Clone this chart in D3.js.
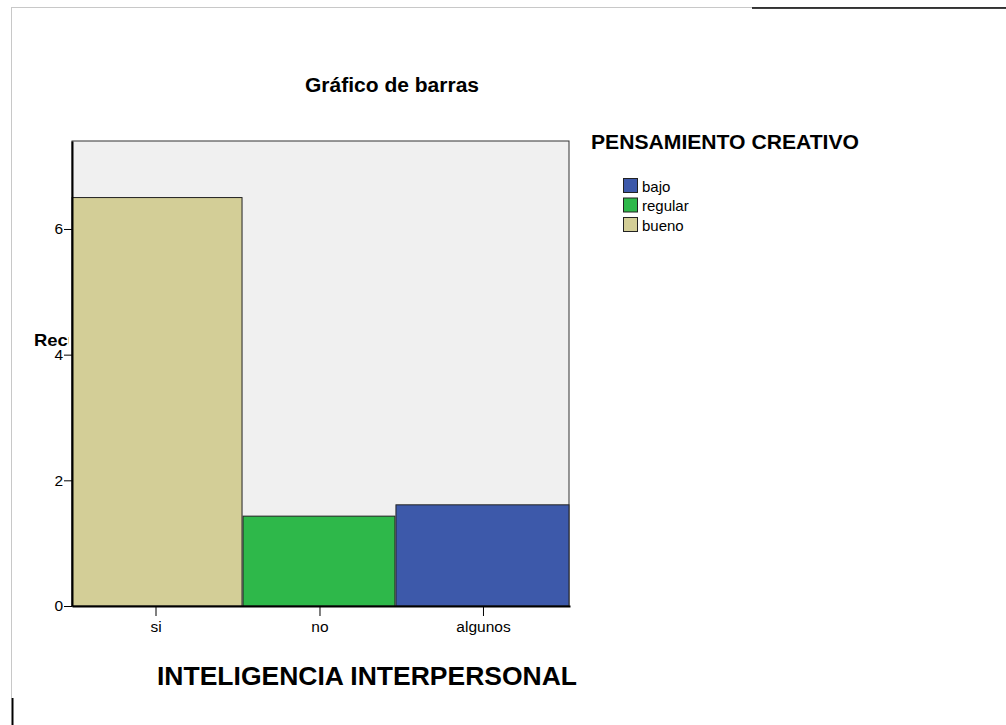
<!DOCTYPE html>
<html>
<head>
<meta charset="utf-8">
<script src="https://cdn.jsdelivr.net/npm/d3@7"></script>
<style>
  body { margin: 0; background: #fff; }
  text { font-family: Arial, "Liberation Sans", sans-serif; }
</style>
</head>
<body>
<div id="chart"></div>
<script>
// datos
const categorias = ['si', 'no', 'algunos'];
const valores = [6.5, 1.43, 1.61];
const anchos = [170, 152, 173];           // ancho relativo de cada barra
const grupos = ['bueno', 'regular', 'bajo']; // grupo de cada barra
const leyenda = ['bajo', 'regular', 'bueno'];
const colores = { bajo: '#3d59aa', regular: '#2eb84a', bueno: '#d3ce97' };
const yTicks = [0, 2, 4, 6];

const width = 1006, height = 725;
const plot = { left: 72, right: 569, top: 141, bottom: 606 };

const svg = d3.select('#chart').append('svg')
  .attr('width', width)
  .attr('height', height);

// marco de la página
svg.append('line').attr('x1', 11).attr('x2', 1006).attr('y1', 7.5).attr('y2', 7.5)
  .attr('stroke', '#c8c8c8');
svg.append('line').attr('x1', 11.5).attr('x2', 11.5).attr('y1', 7).attr('y2', 698)
  .attr('stroke', '#c8c8c8');
svg.append('line').attr('x1', 752).attr('x2', 1006).attr('y1', 8).attr('y2', 8)
  .attr('stroke', '#000').attr('stroke-width', 1.5);
svg.append('line').attr('x1', 12.5).attr('x2', 12.5).attr('y1', 698).attr('y2', 725)
  .attr('stroke', '#000').attr('stroke-width', 2);

svg.append('text')
  .attr('x', 392).attr('y', 92)
  .attr('text-anchor', 'middle')
  .attr('font-size', 20).attr('font-weight', 'bold')
  .attr('textLength', 174).attr('lengthAdjust', 'spacingAndGlyphs')
  .text('Gráfico de barras');

// etiqueta eje y (recortada como en el original)
svg.append('clipPath').attr('id', 'clipY')
  .append('rect').attr('x', 20).attr('y', 320).attr('width', 49).attr('height', 40);
svg.append('text')
  .attr('x', 34).attr('y', 346)
  .attr('clip-path', 'url(#clipY)')
  .attr('font-size', 17).attr('font-weight', 'bold')
  .attr('textLength', 84).attr('lengthAdjust', 'spacingAndGlyphs')
  .text('Recuento');

const y = d3.scaleLinear().domain([0, 7.4]).range([plot.bottom, plot.top]);

const total = d3.sum(anchos);
const cortes = d3.cumsum([0, ...anchos]);
const x = d3.scaleLinear().domain([0, total]).range([plot.left, plot.right + 1]);

svg.append('rect')
  .attr('x', plot.left).attr('y', plot.top)
  .attr('width', plot.right - plot.left).attr('height', plot.bottom - plot.top)
  .attr('fill', '#f0f0f0').attr('stroke', '#333').attr('stroke-width', 1);

svg.selectAll('rect.bar')
  .data(categorias)
  .enter()
  .append('rect')
  .attr('class', 'bar')
  .attr('x', (d, i) => x(cortes[i]))
  .attr('width', (d, i) => x(cortes[i + 1]) - x(cortes[i]) - 1)
  .attr('y', (d, i) => y(valores[i]))
  .attr('height', (d, i) => y(0) - y(valores[i]))
  .attr('fill', (d, i) => colores[grupos[i]])
  .attr('stroke', '#222').attr('stroke-width', 1);

// eje y
const yAxis = svg.append('g')
  .attr('transform', `translate(${plot.left},0)`)
  .call(d3.axisLeft(y).tickValues(yTicks).tickSizeInner(8).tickSizeOuter(0)
    .tickPadding(1).tickFormat(d3.format('d')));
yAxis.select('.domain').attr('stroke', '#000').attr('stroke-width', 2);
yAxis.selectAll('.tick line').attr('stroke', '#000');
yAxis.selectAll('.tick text').attr('font-size', 15.5).attr('fill', '#000')
  .attr('font-family', 'Arial, "Liberation Sans", sans-serif');

// eje x
const xAxis = svg.append('g')
  .attr('transform', `translate(0,${plot.bottom})`)
  .call(d3.axisBottom(x)
    .tickValues(categorias.map((d, i) => (cortes[i] + cortes[i + 1]) / 2 - (i === 0 ? 2 : 0)))
    .tickSizeInner(10).tickSizeOuter(0).tickPadding(5)
    .tickFormat((d, i) => categorias[i]));
xAxis.select('.domain').attr('stroke', '#000').attr('stroke-width', 2);
xAxis.selectAll('.tick line').attr('stroke', '#000');
xAxis.selectAll('.tick text').attr('font-size', 15.5).attr('fill', '#000')
  .attr('font-family', 'Arial, "Liberation Sans", sans-serif');

svg.append('text')
  .attr('x', 367).attr('y', 685)
  .attr('text-anchor', 'middle')
  .attr('font-size', 26).attr('font-weight', 'bold')
  .attr('textLength', 420).attr('lengthAdjust', 'spacingAndGlyphs')
  .text('INTELIGENCIA INTERPERSONAL');

// leyenda
svg.append('text')
  .attr('x', 591).attr('y', 149)
  .attr('font-size', 20).attr('font-weight', 'bold')
  .attr('textLength', 268).attr('lengthAdjust', 'spacingAndGlyphs')
  .text('PENSAMIENTO CREATIVO');

const leg = svg.selectAll('g.leg')
  .data(leyenda)
  .enter()
  .append('g')
  .attr('class', 'leg')
  .attr('transform', (d, i) => `translate(623.5,${178.5 + i * 19.5})`);
leg.append('rect')
  .attr('width', 14).attr('height', 14)
  .attr('fill', d => colores[d]).attr('stroke', '#222');
leg.append('text')
  .attr('x', 18.5).attr('y', 13)
  .attr('font-size', 15)
  .text(d => d);
</script>
</body>
</html>
